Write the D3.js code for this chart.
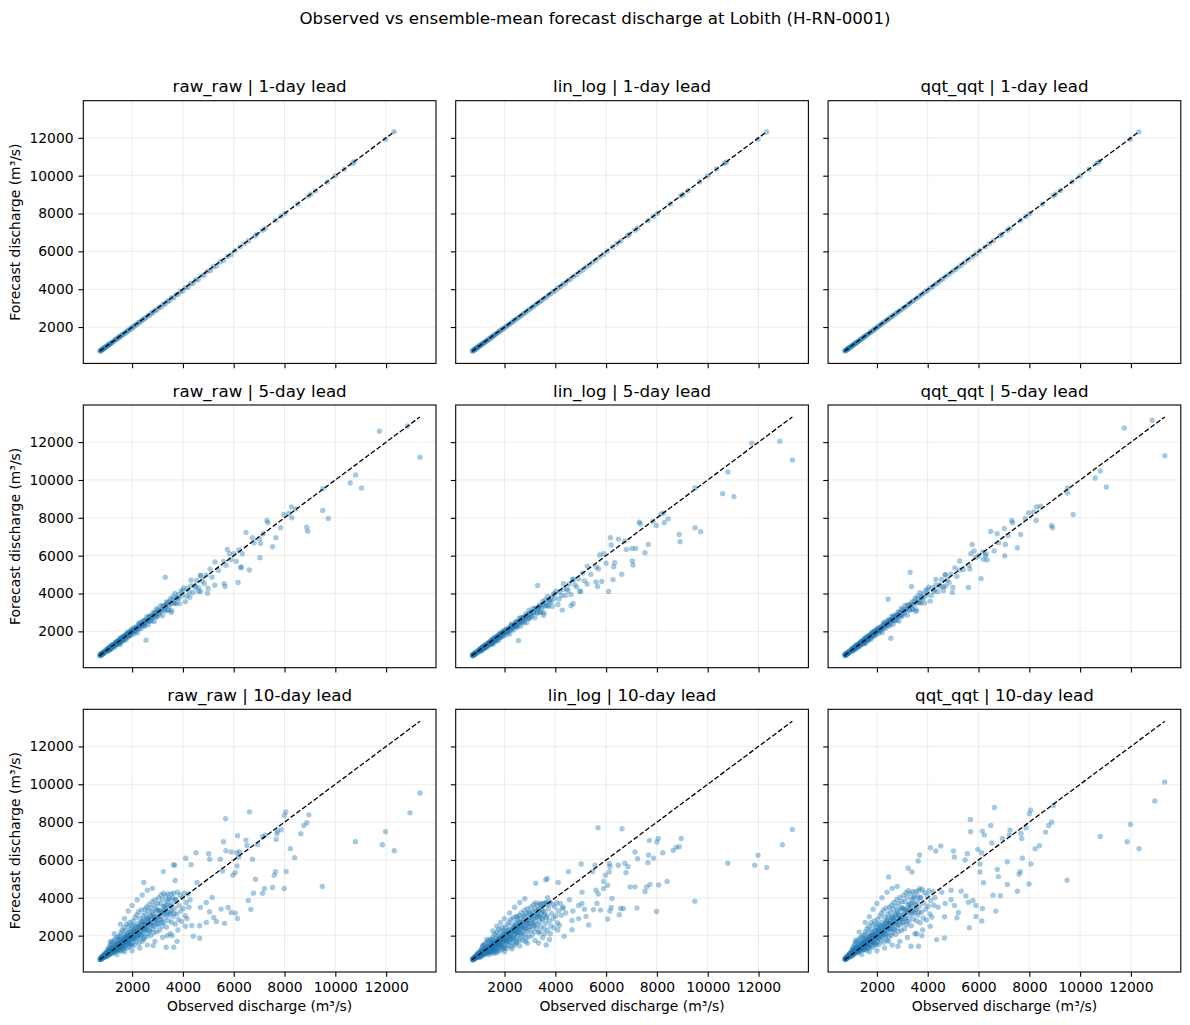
<!DOCTYPE html>
<html>
<head>
<meta charset="utf-8">
<script src="https://cdn.jsdelivr.net/npm/d3@7"></script>
<style>
  body { margin: 0; background: #fff; }
  text { font-family: "DejaVu Sans", sans-serif; fill: #000; }
</style>
</head>
<body>
<svg width="1190" height="1025"></svg>
<script>
const methods = ["raw_raw", "lin_log", "qqt_qqt"]
const leadNames = ["1-day", "5-day", "10-day"]
const tickValues = [2000, 4000, 6000, 8000, 10000, 12000]

// 1-day lead: observed and ensemble-mean forecast (m3/s)
const obs1 = [
  730, 760, 780, 800, 820, 840, 860, 880, 900, 930,
  960, 990, 1020, 1050, 1080, 1110, 1140, 1170, 1200, 1240,
  1280, 1320, 1360, 1400, 1440, 1480, 1520, 1560, 1600, 1650,
  1700, 1750, 1800, 1850, 1900, 1950, 2000, 2060, 2120, 2180,
  2240, 2300, 2360, 2420, 2480, 2550, 2620, 2690, 2760, 2830,
  2900, 2980, 3060, 3140, 3220, 3300, 3380, 3460, 3550, 3640,
  3730, 3820, 3910, 4000, 4100, 4200, 4300, 4400, 4500, 4600,
  4720, 4840, 4960, 5080, 5200, 5330, 5460, 5600, 5750, 5900,
  6050, 6254, 6424, 6581, 6843, 6909, 7131, 7236, 7655, 7864,
  8021, 8519, 8938, 9029, 9225, 9684, 9998, 10351, 10665, 10744,
  11975, 12315]
const rawRaw1 = [
  720, 748, 776, 783, 818, 822, 856, 862, 897, 908,
  955, 965, 1015, 1022, 1074, 1082, 1135, 1140, 1192, 1205,
  1272, 1285, 1352, 1362, 1432, 1440, 1512, 1518, 1590, 1605,
  1690, 1702, 1790, 1800, 1890, 1898, 1988, 2005, 2108, 2122,
  2228, 2240, 2348, 2358, 2465, 2485, 2605, 2622, 2745, 2760,
  2885, 2905, 3045, 3062, 3205, 3220, 3365, 3378, 3535, 3555,
  3715, 3730, 3895, 3910, 4085, 4110, 4285, 4310, 4485, 4510,
  4705, 4750, 4945, 4990, 5185, 5240, 5445, 5520, 5735, 5820,
  6040, 6240, 6410, 6560, 6820, 6900, 7110, 7210, 7640, 7850,
  8010, 8500, 8920, 9020, 9210, 9670, 9990, 10340, 10650, 10740,
  11920, 12320]
const linLog1 = [
  725, 752, 770, 790, 812, 828, 850, 868, 890, 915,
  948, 972, 1008, 1030, 1066, 1090, 1126, 1150, 1184, 1215,
  1262, 1295, 1342, 1372, 1420, 1452, 1500, 1530, 1578, 1620,
  1676, 1718, 1775, 1815, 1872, 1915, 1970, 2022, 2090, 2140,
  2208, 2260, 2325, 2380, 2445, 2505, 2580, 2645, 2722, 2785,
  2860, 2930, 3020, 3085, 3180, 3245, 3340, 3400, 3510, 3580,
  3690, 3755, 3870, 3935, 4060, 4130, 4260, 4330, 4460, 4535,
  4680, 4775, 4920, 5010, 5160, 5265, 5420, 5545, 5710, 5845,
  6020, 6230, 6400, 6550, 6830, 6890, 7120, 7220, 7630, 7840,
  8000, 8510, 8930, 9010, 9220, 9680, 9980, 10350, 10660, 10730,
  11930, 12310]
const qqtQqt1 = [
  728, 755, 772, 795, 815, 835, 852, 872, 893, 920,
  950, 978, 1010, 1038, 1068, 1098, 1128, 1158, 1186, 1222,
  1265, 1302, 1345, 1380, 1422, 1460, 1502, 1540, 1582, 1628,
  1680, 1725, 1780, 1822, 1876, 1922, 1975, 2030, 2095, 2150,
  2212, 2268, 2330, 2388, 2450, 2515, 2585, 2655, 2728, 2795,
  2866, 2940, 3025, 3095, 3185, 3255, 3345, 3415, 3515, 3595,
  3695, 3770, 3875, 3950, 4065, 4145, 4265, 4345, 4465, 4550,
  4685, 4790, 4925, 5025, 5165, 5280, 5425, 5560, 5715, 5860,
  6030, 6235, 6405, 6555, 6825, 6895, 7115, 7215, 7635, 7845,
  8005, 8505, 8925, 9015, 9215, 9675, 9985, 10345, 10655, 10735,
  11925, 12318]

// 5-day lead
const obs5 = [
  737, 744, 751, 759, 766, 774, 781, 790, 799, 808, 818, 829, 840, 853, 866, 880, 897, 915, 938, 962,
  1003, 1017, 1029, 1044, 1058, 1070, 1085, 1099, 1113, 1128, 1142, 1158, 1171, 1187, 1202, 1216, 1232, 1247,
  1263, 1279, 1294, 1309, 1326, 1341, 1357, 1373, 1389, 1405, 1421, 1437, 1452, 1467, 1478, 1488, 1496,
  1509, 1524, 1541, 1557, 1574, 1590, 1607, 1623, 1641, 1658, 1674, 1691, 1709, 1726, 1743,
  1760, 1777, 1795, 1812, 1829, 1847, 1864, 1881, 1899, 1916, 1934, 1951, 1968, 1983, 1997,
  2012, 2041, 2068, 2097, 2124, 2151, 2180, 2207, 2236, 2264, 2293, 2320, 2349, 2378, 2406, 2435, 2463, 2492,
  2521, 2550, 2579, 2608, 2637, 2666, 2695, 2724, 2753, 2783, 2812, 2841, 2870, 2900, 2929, 2959, 2988,
  3021, 3064, 3108, 3151, 3196, 3240, 3284, 3329, 3373, 3418, 3463, 3508, 3553, 3599, 3645, 3690, 3736, 3782,
  3829, 3875, 3922, 3968,
  4030, 4102, 4175, 4248, 4321, 4395, 4468, 4542, 4617, 4691, 4766, 4841, 4917, 4993, 5069, 5147, 5260, 5400,
  2440, 3360, 4270, 4620, 4700, 3540, 1520,
  2549, 3307, 4967, 5254, 5600, 5620, 5660, 5700, 5750, 5829,
  5900, 6000, 6100, 6169, 6200, 6274, 6300, 6339, 6483, 6614,
  6731, 6797, 7018, 7032, 7058, 7162, 7306, 7345, 7529, 7659,
  7842, 7973, 8169, 8274, 8287, 8444, 8875, 8914, 9502, 9502,
  9724, 10587, 10796, 11031, 11737, 12835, 13332,
  1012, 1048, 1083, 1121, 1158, 1196, 1235, 1274, 1313, 1353,
  1394, 1435, 1476, 1518, 1561, 1604, 1648, 1692, 1737, 1782,
  1828, 1875, 1922, 1970, 2018, 2067, 2117, 2167, 2218, 2270,
  2322, 2375, 2429, 2484, 2539, 2595, 2652, 2710, 2768, 2827,
  2887, 2948, 3010, 3073, 3137, 3202, 3268, 3335, 3403, 3472,
  3542, 3613, 3685, 3758, 3832, 3990, 4150, 4320, 4500, 4700]
const rawRaw5 = [
  730, 763, 717, 763, 747, 801, 777, 747, 811, 784, 818, 846, 806, 840, 892, 827, 906, 897, 976, 928,
  1059, 1009, 938, 1069, 1007, 1070, 1120, 1029, 1086, 1182, 1032, 1177, 1134, 1263, 1135, 1206, 1262, 1147,
  1314, 1259, 1232, 1319, 1188, 1384, 1303, 1450, 1356, 1304, 1421, 1460, 1429, 1526, 1372, 1500, 1436,
  1400, 1483, 1624, 1389, 1602, 1533, 1723, 1521, 1626, 1703, 1523, 1767, 1678, 1633, 1759,
  1554, 1841, 1714, 1926, 1780, 1697, 1864, 1915, 1865, 2002, 1777, 1969, 1879, 2108, 1979,
  1992, 2102, 1861, 2202, 2082, 2022, 2202, 1920, 2325, 2151, 2454, 2250, 2138, 2378, 2454, 2386, 2586, 2268,
  2546, 2423, 2760, 2582, 2347, 2746, 2533, 2724, 2863, 2560, 2728, 3011, 2526, 2958, 2812, 3196, 2779,
  3053, 2903, 3336, 3118, 2827, 3342, 3077, 3329, 3515, 3131, 3354, 3729, 3105, 3675, 3492, 4000, 3461, 3742,
  3950, 3468, 4128, 3885,
  4296, 3561, 4267, 4061, 4701, 4057, 4419, 4692, 4109, 4949, 4661, 4521, 4971, 4279, 5292, 4864, 5665, 5222,
  2370, 3550, 3800, 4300, 4100, 3000, 1300,
  1526, 4859, 4017, 4438, 5700, 4525, 4368, 5500, 6332, 6104,
  5800, 6100, 5700, 4578, 6300, 5368, 5403, 6104, 7227, 5245,
  6946, 6683, 6894, 5894, 6648, 7157, 7858, 7736, 6473, 6946,
  7473, 8174, 8227, 8577, 8000, 8472, 7508, 7297, 9542, 8385,
  7964, 9840, 10261, 9577, 12577, 12840, 11208,
  1022, 1006, 1115, 1099, 1216, 1124, 1235, 1299, 1274, 1407,
  1324, 1449, 1461, 1609, 1499, 1636, 1533, 1743, 1702, 1853,
  1773, 1969, 1807, 1990, 1998, 2129, 2011, 2210, 2129, 2406,
  2322, 2304, 2526, 2310, 2590, 2543, 2785, 2575, 2796, 2799,
  2974, 2771, 3130, 2981, 3137, 3362, 3137, 3402, 3131, 3576,
  3471, 3830, 3501, 3796, 3717, 4150, 3860, 4406, 4320, 4935]
const linLog5 = [
  723, 755, 710, 755, 740, 793, 769, 740, 803, 776, 810, 838, 798, 832, 883, 819, 897, 888, 966, 919,
  1043, 994, 924, 1053, 992, 1054, 1103, 1014, 1070, 1164, 1017, 1159, 1117, 1244, 1118, 1188, 1243, 1130,
  1294, 1240, 1214, 1299, 1170, 1363, 1283, 1428, 1336, 1284, 1400, 1438, 1408, 1503, 1351, 1478, 1414,
  1372, 1453, 1592, 1361, 1570, 1502, 1689, 1491, 1593, 1669, 1493, 1732, 1644, 1600, 1724,
  1523, 1804, 1680, 1887, 1744, 1663, 1827, 1877, 1828, 1962, 1741, 1930, 1841, 2066, 1939,
  1932, 2039, 1805, 2136, 2020, 1961, 2136, 1862, 2255, 2086, 2380, 2183, 2074, 2307, 2380, 2314, 2508, 2200,
  2470, 2350, 2677, 2505, 2277, 2664, 2457, 2642, 2777, 2483, 2646, 2921, 2450, 2869, 2728, 3100, 2696,
  2931, 2787, 3203, 2993, 2714, 3208, 2954, 3196, 3374, 3006, 3220, 3580, 2981, 3528, 3352, 3840, 3323, 3592,
  3792, 3329, 3963, 3730,
  4124, 3419, 4096, 3899, 4513, 3895, 4242, 4504, 3945, 4751, 4475, 4340, 4772, 4108, 5080, 4669, 5438, 5013,
  2300, 3300, 3123, 3350, 3473, 2850, 1320,
  1509, 4420, 4105, 4500, 4613, 5400, 4368, 5300, 6034, 4631,
  6104, 5600, 4105, 6946, 6560, 4736, 5420, 5631, 6876, 5017,
  6771, 6332, 6385, 5718, 5508, 6385, 7770, 7683, 6157, 6595,
  7823, 7595, 8209, 8262, 7736, 7946, 7122, 6736, 9577, 7473,
  7262, 9279, 10419, 9121, 11945, 12050, 11050,
  1002, 986, 1093, 1077, 1192, 1102, 1210, 1273, 1249, 1379,
  1298, 1420, 1432, 1577, 1469, 1603, 1502, 1708, 1668, 1816,
  1738, 1930, 1771, 1950, 1958, 2086, 1971, 2166, 2086, 2358,
  2276, 2258, 2475, 2264, 2538, 2492, 2729, 2524, 2740, 2743,
  2855, 2660, 3005, 2862, 3012, 3228, 3012, 3266, 3006, 3433,
  3332, 3677, 3361, 3644, 3568, 3984, 3706, 4230, 4147, 4738]
const qqtQqt5 = [
  737, 771, 724, 771, 754, 809, 785, 754, 819, 792, 826, 854, 814, 848, 901, 835, 915, 906, 986, 937,
  1070, 1019, 947, 1080, 1017, 1081, 1131, 1039, 1097, 1194, 1042, 1189, 1145, 1276, 1146, 1218, 1275, 1158,
  1327, 1272, 1244, 1332, 1200, 1398, 1316, 1465, 1370, 1317, 1435, 1475, 1443, 1541, 1386, 1515, 1450,
  1414, 1498, 1640, 1403, 1618, 1548, 1740, 1536, 1642, 1720, 1538, 1785, 1695, 1649, 1777,
  1570, 1859, 1731, 1945, 1798, 1714, 1883, 1934, 1884, 2022, 1795, 1989, 1898, 2129, 1999,
  2012, 2123, 1880, 2224, 2103, 2042, 2224, 1939, 2348, 2173, 2479, 2273, 2159, 2402, 2479, 2410, 2612, 2291,
  2571, 2447, 2788, 2608, 2370, 2773, 2558, 2751, 2892, 2586, 2755, 3041, 2551, 2988, 2840, 3228, 2807,
  3084, 2932, 3369, 3149, 2855, 3375, 3108, 3362, 3550, 3162, 3388, 3766, 3136, 3712, 3527, 4040, 3496, 3779,
  3990, 3503, 4169, 3924,
  4339, 3597, 4310, 4102, 4748, 4098, 4463, 4739, 4150, 4998, 4708, 4566, 5021, 4322, 5345, 4913, 5722, 5274,
  3701, 4368, 4200, 4350, 4400, 3050, 1340,
  1632, 5122, 4052, 5245, 4315, 5500, 5300, 6104, 6595, 6245,
  5900, 6000, 4789, 6209, 5806, 6000, 6100, 5771, 7280, 6245,
  7157, 6683, 7438, 5999, 6595, 7069, 7858, 7736, 6420, 7122,
  7964, 8262, 8315, 7858, 8577, 8612, 7595, 7473, 9577, 9314,
  8174, 10103, 10472, 9630, 12752, 13156, 11279,
  1032, 1016, 1126, 1110, 1228, 1135, 1247, 1312, 1287, 1421,
  1337, 1463, 1476, 1625, 1514, 1652, 1548, 1760, 1719, 1872,
  1791, 1989, 1825, 2010, 2018, 2150, 2031, 2232, 2150, 2430,
  2345, 2327, 2551, 2333, 2616, 2568, 2813, 2601, 2824, 2827,
  3004, 2799, 3161, 3011, 3168, 3396, 3168, 3436, 3162, 3612,
  3506, 3868, 3536, 3834, 3754, 4192, 3899, 4450, 4363, 4984]

// 10-day lead
const obs10 = [
  742, 748, 755, 761, 768, 773, 779, 786, 792, 801, 808, 817, 826, 834, 845, 853, 866, 878, 889, 903,
  918, 934, 951, 968, 987,
  1004, 1012, 1023, 1031, 1045, 1052, 1066, 1078, 1085, 1097, 1110, 1118, 1133, 1141, 1156, 1170, 1182, 1195, 1207, 1219,
  1232, 1248, 1261, 1274, 1290, 1302, 1318, 1330, 1347, 1359, 1373, 1388, 1401, 1415, 1430, 1446, 1459, 1472, 1486, 1497,
  1505, 1517, 1528, 1536, 1549, 1562, 1574, 1588, 1597, 1611, 1623, 1638, 1646, 1659, 1672, 1684, 1699, 1708, 1721, 1735,
  1746, 1759, 1773, 1786, 1798, 1811, 1826, 1837, 1852, 1866, 1877, 1891, 1903, 1918, 1931, 1944, 1958, 1969, 1983, 1996,
  2008, 2021, 2036, 2049, 2063, 2078, 2090, 2106, 2120, 2135, 2149, 2163, 2180, 2194, 2207, 2223, 2238, 2251, 2267, 2282,
  2296, 2311, 2327, 2341, 2356, 2372, 2386, 2401, 2417, 2432, 2447, 2461, 2476, 2489, 2498,
  2512, 2528, 2541, 2559, 2574, 2590, 2606, 2620, 2637, 2655, 2668, 2685, 2702, 2718, 2733, 2751, 2768, 2784, 2801, 2817,
  2835, 2850, 2868, 2884, 2902, 2919, 2936, 2953, 2971, 2988,
  3011, 3029, 3048, 3066, 3085, 3104, 3121, 3142, 3160, 3179, 3198, 3217, 3236, 3257, 3275, 3294, 3313, 3333, 3352, 3372,
  3391, 3412, 3433, 3455, 3478,
  3505, 3531, 3558, 3586, 3612, 3640, 3671, 3699, 3728, 3760, 3789, 3821, 3852, 3884, 3917, 3950, 3983, 4016, 4050, 4086,
  4122, 4160, 4199, 4238, 4281,
  1150, 1300, 1540, 1700, 1850, 2000, 2200, 2400, 2600, 2800,
  1400, 1700, 2000, 2300, 2600, 2900, 3200, 3500, 3800, 4100,
  2460, 2460, 2830, 3230, 3340, 3380, 3575, 3625, 3640, 3680, 3694, 3770,
  4110, 4320, 4350, 4410, 4515, 4555, 4660, 4660, 4690, 4920,
  4920, 5013, 5050, 5052, 5150, 5210, 5315, 5472, 5500, 5564,
  5600, 5640, 5680, 5690, 5780, 5900, 5900, 5970, 6060, 6062,
  6120, 6127, 6150, 6150, 6200, 6230, 6480, 6520, 6572, 6624,
  6677, 6740, 6780, 6860, 6940, 7135, 7135, 7214, 7240, 7530,
  7594, 7646, 7672, 7700, 7725, 7870, 7987, 8000, 8050, 8065,
  8230, 8400, 8640, 8760, 8880, 8956, 9490, 10790, 11850, 11980,
  12320, 12940, 13330,
  905, 926, 947, 972, 995, 1016, 1038, 1061, 1083, 1106,
  1127, 1149, 1172, 1194, 1215, 1238, 1260, 1283, 1305, 1327,
  1350, 1371, 1394, 1416, 1439, 1461, 1483, 1506, 1528, 1551,
  1573, 1596, 1618, 1641, 1663, 1686, 1708, 1731, 1753, 1776,
  1799, 1821, 1844, 1867, 1889, 1912, 1935, 1958, 1981, 2004,
  2031, 2058, 2086, 2113, 2141, 2169, 2197, 2225, 2254, 2282,
  2311, 2340, 2369, 2398, 2428, 2457, 2487, 2517, 2547, 2578,
  2609, 2640, 2671, 2703, 2735, 2767, 2800, 2833, 2866, 2900,
  2934, 2969, 3004, 3040, 3076, 3113, 3150, 3188, 3226, 3265,
  3305, 3345, 3386, 3428, 3471, 3515, 3560, 3606, 3653, 3701]
const rawRaw10 = [
  738, 761, 744, 790, 752, 781, 812, 770, 845, 786, 830, 869, 801, 905, 822, 880, 948, 851, 930, 1010,
  880, 1065, 912, 1020, 1130,
  965, 1180, 1040, 910, 1260, 1100, 995, 1330, 1150, 1050, 1420, 1000, 1210, 1530, 1090, 1300, 1140, 1610, 1250, 1060,
  1380, 1700, 1160, 1450, 1290, 1120, 1780, 1350, 1210, 1560, 1870, 1260, 1480, 1190, 1650, 1950, 1320, 1540, 1240, 1800,
  1420, 1980, 1230, 1650, 2150, 1370, 1820, 1190, 1560, 2300, 1480, 1730, 1290, 2050, 1610, 2420, 1350, 1900, 1690, 1450,
  2250, 1780, 2600, 1550, 1960, 1330, 2140, 1700, 2480, 1610, 2010, 1430, 2700, 1840, 2200, 1560, 2380, 1920, 1470, 2560,
  2050, 1620, 2780, 2300, 1800, 2530, 1500, 2150, 2950, 1950, 2400, 1700, 3100, 2230, 1880, 2650, 2050, 3250, 1600, 2480,
  2200, 2900, 1850, 2600, 3350, 2050, 2750, 1700, 2380, 3050, 2150, 2850, 1900, 2560, 3400,
  2300, 3150, 2650, 1950, 3500, 2450, 2900, 2100, 3300, 2750, 3650, 2250, 3050, 2550, 2000, 3450, 2850, 3800, 2350, 3150,
  2700, 2150, 3600, 3000, 3900, 2500, 3300, 2800, 2200, 3700,
  3350, 2600, 4000, 3050, 2300, 3700, 2850, 4150, 3300, 2500, 3900, 3150, 4250, 2700, 3550, 2950, 4100, 3400, 2450, 3800,
  3100, 4200, 2800, 3600, 3950,
  3250, 4200, 2700, 3700, 3000, 4250, 3450, 2600, 3900, 3150, 4300, 2850, 3600, 4150, 3300, 2750, 4000, 3450, 4250, 3050,
  3750, 2900, 4200, 3500, 3900,
  1700, 2100, 2600, 2900, 3300, 3600, 3900, 4150, 4400, 4500,
  1000, 1150, 1200, 1350, 1500, 1700, 1900, 2100, 2300, 2500,
  4806, 1790, 1474, 5385, 1386, 2000, 2000, 5753, 1386, 5718, 4911, 1700,
  6087, 5753, 2526, 1965, 6385, 4806, 1860, 2526, 3490, 2700,
  3754, 6332, 3263, 6034, 4017, 2965, 2754, 6034, 3403, 5420,
  6964, 2649, 8175, 6490, 3490, 3228, 6420, 5192, 5332, 3193,
  6385, 5683, 2912, 7280, 6157, 6420, 7050, 6771, 3860, 8543,
  3386, 6034, 4245, 4982, 6824, 7227, 4245, 4490, 7315, 4543,
  5192, 5385, 7087, 7385, 7525, 7595, 4490, 8350, 8543, 5385,
  6595, 6122, 7385, 7823, 7964, 8385, 4596, 6964, 6806, 7490,
  6490, 8490, 9540,
  924, 874, 1027, 958, 1044, 924, 1038, 1128, 1045, 1222,
  1048, 1181, 1164, 1286, 1155, 1290, 1128, 1301, 1409, 1274,
  1526, 1248, 1408, 1331, 1583, 1286, 1557, 1461, 1742, 1380,
  1573, 1708, 1489, 1690, 1430, 1838, 1674, 1939, 1648, 1847,
  1997, 1694, 1955, 1587, 1927, 2065, 1858, 2213, 1803, 2024,
  1909, 2264, 1836, 2219, 2077, 2473, 1955, 2225, 2412, 2099,
  2380, 2012, 2582, 2350, 2719, 2310, 2586, 2600, 2323, 2918,
  2552, 2843, 2289, 2703, 3006, 2615, 3262, 2521, 2992, 2868,
  2837, 3426, 2641, 3040, 3313, 2839, 3254, 2697, 3545, 3193,
  3378, 3639, 3237, 3918, 3127, 3554, 3325, 4003, 3171, 3905]
const linLog10 = [
  723, 746, 729, 774, 737, 765, 796, 755, 828, 770, 813, 852, 785, 887, 806, 862, 929, 834, 911, 990,
  862, 1044, 894, 1000, 1107,
  897, 1097, 967, 846, 1172, 1023, 925, 1237, 1070, 977, 1321, 930, 1125, 1423, 1014, 1209, 1060, 1497, 1163, 986,
  1283, 1581, 1079, 1349, 1200, 1042, 1655, 1256, 1125, 1451, 1739, 1172, 1376, 1107, 1535, 1814, 1228, 1432, 1153, 1674,
  1278, 1782, 1107, 1485, 1935, 1233, 1638, 1071, 1404, 2070, 1332, 1557, 1161, 1845, 1449, 2178, 1215, 1710, 1521, 1305,
  2025, 1602, 2340, 1395, 1764, 1197, 1926, 1530, 2232, 1449, 1809, 1287, 2430, 1656, 1980, 1404, 2142, 1728, 1323, 2304,
  1804, 1426, 2446, 2024, 1584, 2226, 1320, 1892, 2596, 1716, 2112, 1496, 2728, 1962, 1654, 2332, 1804, 2860, 1408, 2182,
  1936, 2552, 1628, 2288, 2948, 1804, 2420, 1496, 2094, 2684, 1892, 2508, 1672, 2253, 2992,
  2024, 2772, 2332, 1716, 3080, 2156, 2552, 1848, 2904, 2420, 3212, 1980, 2684, 2244, 1760, 3036, 2508, 3344, 2068, 2772,
  2376, 1892, 3168, 2640, 3432, 2200, 2904, 2464, 1936, 3256,
  2948, 2288, 3520, 2684, 2024, 3256, 2508, 3652, 2904, 2200, 3432, 2772, 3740, 2376, 3124, 2596, 3608, 2992, 2156, 3344,
  2728, 3696, 2464, 3168, 3476,
  2860, 3696, 2376, 3256, 2640, 3740, 3036, 2288, 3432, 2772, 3784, 2508, 3168, 3652, 2904, 2420, 3520, 3036, 3740, 2684,
  3300, 2552, 3696, 3080, 3432,
  1500, 1800, 2250, 2500, 2700, 2900, 3200, 3500, 3750, 3950,
  1000, 1100, 1150, 1300, 1450, 1600, 1750, 1900, 2100, 2300,
  3000, 1600, 1700, 4771, 1614, 2200, 2100, 4947, 1509, 5017, 4000, 1800,
  4806, 3500, 1965, 3200, 5385, 3900, 2316, 2800, 3300, 2900,
  3600, 5788, 3700, 4300, 3400, 3017, 2561, 5385, 3368, 5718,
  4400, 3700, 7700, 4200, 3350, 4490, 4859, 5192, 4666, 2877,
  5368, 5806, 3300, 5648, 3490, 3964, 5718, 3105, 3438, 7648,
  3438, 5824, 5332, 5648, 4578, 6420, 4578, 3456, 6069, 4333,
  4578, 5858, 6262, 7034, 4700, 6100, 3280, 6947, 7140, 4683,
  6385, 4859, 6508, 6666, 6701, 7140, 3824, 5824, 5718, 6245,
  5596, 6806, 7613,
  896, 848, 996, 929, 1013, 896, 1007, 1094, 1014, 1185,
  1017, 1146, 1129, 1247, 1120, 1251, 1094, 1262, 1367, 1236,
  1419, 1161, 1309, 1238, 1472, 1196, 1448, 1359, 1620, 1283,
  1463, 1588, 1385, 1572, 1330, 1709, 1557, 1803, 1533, 1718,
  1857, 1575, 1818, 1476, 1792, 1920, 1728, 2058, 1677, 1882,
  1775, 2106, 1707, 2064, 1932, 2300, 1818, 2069, 2243, 1952,
  2213, 1871, 2401, 2186, 2529, 2148, 2405, 2418, 2160, 2714,
  2373, 2644, 2129, 2514, 2796, 2432, 3034, 2345, 2783, 2667,
  2638, 3186, 2456, 2827, 3081, 2640, 3026, 2508, 3297, 2969,
  3142, 3384, 3010, 3644, 2908, 3305, 3092, 3723, 2949, 3632]
const qqtQqt10 = [
  745, 769, 751, 798, 760, 789, 820, 778, 853, 794, 838, 878, 809, 914, 830, 889, 957, 860, 939, 1020,
  889, 1076, 921, 1030, 1141,
  994, 1215, 1071, 937, 1298, 1133, 1025, 1370, 1185, 1082, 1463, 1030, 1246, 1576, 1123, 1339, 1174, 1658, 1288, 1092,
  1421, 1751, 1195, 1494, 1329, 1154, 1833, 1391, 1246, 1607, 1926, 1298, 1524, 1226, 1700, 2009, 1360, 1586, 1277, 1854,
  1463, 2039, 1267, 1700, 2215, 1411, 1875, 1226, 1607, 2369, 1524, 1782, 1329, 2112, 1658, 2493, 1391, 1957, 1741, 1494,
  2318, 1833, 2678, 1597, 2019, 1370, 2204, 1751, 2554, 1658, 2070, 1473, 2781, 1895, 2266, 1607, 2451, 1978, 1514, 2637,
  2112, 1669, 2863, 2369, 1854, 2606, 1545, 2215, 3039, 2009, 2472, 1751, 3193, 2297, 1936, 2730, 2112, 3348, 1648, 2554,
  2266, 2987, 1906, 2678, 3451, 2112, 2833, 1751, 2451, 3142, 2215, 2936, 1957, 2637, 3502,
  2369, 3245, 2730, 2009, 3605, 2524, 2987, 2163, 3399, 2833, 3760, 2318, 3142, 2627, 2060, 3554, 2936, 3914, 2421, 3245,
  2781, 2215, 3708, 3090, 4017, 2575, 3399, 2884, 2266, 3811,
  3451, 2678, 4120, 3142, 2369, 3811, 2936, 4275, 3399, 2575, 4017, 3245, 4378, 2781, 3657, 3039, 4223, 3502, 2524, 3914,
  3193, 4326, 2884, 3708, 4069,
  3348, 4326, 2781, 3811, 3090, 4378, 3554, 2678, 4017, 3245, 4429, 2936, 3708, 4275, 3399, 2833, 4120, 3554, 4378, 3142,
  3863, 2987, 4326, 3605, 4017,
  1750, 2200, 2700, 3000, 3400, 3700, 4000, 4300, 4500, 4600,
  1000, 1150, 1200, 1350, 1500, 1700, 1900, 2100, 2300, 2500,
  5104, 1700, 1439, 5560, 1439, 5368, 2100, 5946, 1439, 6262, 4500, 2000,
  6648, 6473, 1790, 3500, 6736, 4300, 1877, 3000, 3700, 3900,
  4400, 6473, 6157, 3600, 2947, 3228, 4350, 6000, 4100, 6332,
  3771, 2420, 8139, 7490, 3858, 3596, 3017, 6560, 5788, 5368,
  6385, 2772, 3438, 7525, 4800, 7315, 7823, 6894, 4140, 8771,
  3298, 5500, 5122, 4105, 7140, 4701, 5900, 7315, 7578, 4350,
  5245, 5385, 7402, 7140, 6100, 7700, 4736, 8437, 8630, 5788,
  6595, 6753, 7473, 7823, 7999, 8876, 4929, 7244, 6964, 7876,
  6595, 9121, 10121,
  942, 891, 1048, 977, 1065, 942, 1059, 1151, 1066, 1246,
  1069, 1205, 1187, 1312, 1178, 1316, 1151, 1327, 1437, 1299,
  1557, 1273, 1436, 1358, 1615, 1312, 1588, 1490, 1777, 1408,
  1604, 1742, 1519, 1724, 1459, 1875, 1707, 1978, 1681, 1884,
  2037, 1728, 1994, 1619, 1966, 2106, 1895, 2257, 1839, 2064,
  1947, 2309, 1873, 2263, 2119, 2522, 1994, 2270, 2460, 2141,
  2428, 2052, 2634, 2397, 2773, 2356, 2638, 2652, 2369, 2976,
  2603, 2900, 2335, 2757, 3066, 2667, 3327, 2571, 3052, 2925,
  2894, 3495, 2694, 3101, 3379, 2896, 3319, 2751, 3616, 3257,
  3446, 3712, 3302, 3996, 3190, 3625, 3392, 4083, 3234, 3983]

const observed = [obs1, obs5, obs10]
const forecasts = [
  [rawRaw1, linLog1, qqtQqt1],
  [rawRaw5, linLog5, qqtQqt5],
  [rawRaw10, linLog10, qqtQqt10]
]

const svg = d3.select("svg")

const left0 = 83.3, colStep = 372.4, pw = 352.7
const top0 = 100.7, rowStep = 304.3, ph = 262.7

const allValues = observed.flat().concat(forecasts.flat(2))
const lo = d3.min(allValues), hi = d3.max(allValues)
const pad = (hi - lo) * 0.05

const x = d3.scaleLinear().domain([lo - pad, hi + pad]).range([0, pw])
const y = d3.scaleLinear().domain([lo - pad, hi + pad]).range([ph, 0])

svg.append("text")
    .attr("x", 595)
    .attr("y", 24)
    .attr("text-anchor", "middle")
    .style("font-size", "16.67px")
    .text("Observed vs ensemble-mean forecast discharge at Lobith (H-RN-0001)")

leadNames.forEach((lead, r) => {
  methods.forEach((method, c) => {
    const obs = observed[r]
    const fc = forecasts[r][c]
    const points = obs.map((o, i) => [o, fc[i]]).filter(d => d[1] !== undefined)

    const g = svg.append("g")
        .attr("transform", "translate(" + (left0 + c * colStep) + "," + (top0 + r * rowStep) + ")")

    // grid
    g.selectAll("line.gx")
        .data(tickValues)
        .enter()
        .append("line")
        .attr("x1", d => x(d)).attr("x2", d => x(d))
        .attr("y1", 0).attr("y2", ph)
        .attr("stroke", "#b0b0b0").attr("stroke-opacity", 0.3).attr("stroke-width", 0.8)
    g.selectAll("line.gy")
        .data(tickValues)
        .enter()
        .append("line")
        .attr("y1", d => y(d)).attr("y2", d => y(d))
        .attr("x1", 0).attr("x2", pw)
        .attr("stroke", "#b0b0b0").attr("stroke-opacity", 0.3).attr("stroke-width", 0.8)

    g.selectAll("circle")
        .data(points)
        .enter()
        .append("circle")
        .attr("cx", d => x(d[0]))
        .attr("cy", d => y(d[1]))
        .attr("r", 2.7)
        .attr("fill", "#1f77b4")
        .attr("fill-opacity", 0.4)

    const lineLo = Math.min(d3.min(obs), d3.min(fc))
    const lineHi = Math.max(d3.max(obs), d3.max(fc))
    g.append("line")
        .attr("x1", x(lineLo)).attr("y1", y(lineLo))
        .attr("x2", x(lineHi)).attr("y2", y(lineHi))
        .attr("stroke", "#000")
        .attr("stroke-width", 1.3)
        .attr("stroke-dasharray", "5,2.2")

    g.append("rect")
        .attr("width", pw).attr("height", ph)
        .attr("fill", "none").attr("stroke", "#000").attr("stroke-width", 1.1)

    const xAxis = d3.axisBottom(x)
        .tickValues(tickValues)
        .tickSize(4.86)
        .tickPadding(4.86)
        .tickFormat(r === 2 ? d3.format("d") : "")
    const gx = g.append("g").attr("transform", "translate(0," + ph + ")").call(xAxis)

    const yAxis = d3.axisLeft(y)
        .tickValues(tickValues)
        .tickSize(4.86)
        .tickPadding(4.86)
        .tickFormat(c === 0 ? d3.format("d") : "")
    const gy = g.append("g").call(yAxis)

    ;[gx, gy].forEach(a => {
      a.select(".domain").remove()
      a.selectAll(".tick line").attr("stroke", "#000").attr("stroke-width", 1.1)
      a.selectAll("text")
          .style("font-family", "'DejaVu Sans', sans-serif")
          .style("font-size", "13.9px")
          .attr("fill", "#000")
    })

    g.append("text")
        .attr("x", pw / 2)
        .attr("y", -8.3)
        .attr("text-anchor", "middle")
        .style("font-size", "16.67px")
        .text(method + " | " + lead + " lead")

    if (r === 2) {
      g.append("text")
          .attr("x", pw / 2)
          .attr("y", ph + 38.6)
          .attr("text-anchor", "middle")
          .style("font-size", "13.9px")
          .text("Observed discharge (m³/s)")
    }
    if (c === 0) {
      g.append("text")
          .attr("transform", "translate(" + (19.5 - left0) + "," + (ph / 2) + ") rotate(-90)")
          .attr("text-anchor", "middle")
          .style("font-size", "13.9px")
          .text("Forecast discharge (m³/s)")
    }
  })
})
</script>
</body>
</html>
